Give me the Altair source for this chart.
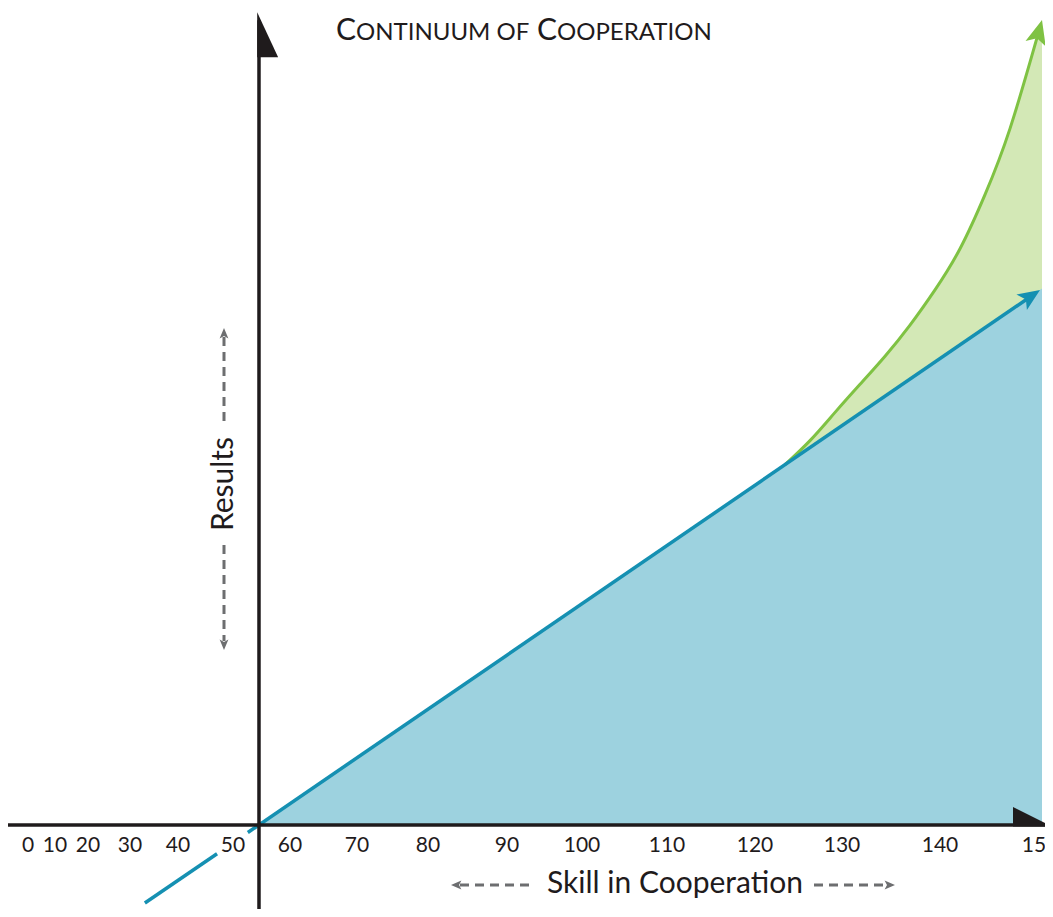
import altair as alt
import pandas as pd

# ---------------- data ----------------
TICK_VALUES = [0, 10, 20, 30, 40, 50, 60, 70, 80, 90, 100, 110, 120, 130, 140, 150]
TICK_LABELS = [str(v) for v in TICK_VALUES]

ORIGIN_X = 54.56          # where the Results axis crosses the Skill axis
RESULTS_TOP = 101.6       # top of the Results axis

# linear results (blue), drawn in two pieces (interrupted by the "50" label)
LINEAR_X_PART1 = [33.1, 47.1]
LINEAR_Y_PART1 = [-9.75, -3.6]
LINEAR_X_PART2 = [52.6, 149.0]
LINEAR_Y_PART2 = [-0.94, 66.0]
LINEAR_TIP_X = [150.0]
LINEAR_TIP_Y = [66.875]
LINEAR_FILL_X = [ORIGIN_X, 150.2]
LINEAR_FILL_Y = [0.0, 67.05]

# cooperative (accelerating) results (green)
EXP_X = [123.45, 126.32, 129.2, 131.84, 134.39, 136.94, 139.49, 142.0, 144.5, 147.0, 149.85]
EXP_Y = [45.04, 48.05, 51.58, 55.09, 58.6, 62.49, 66.89, 72.03, 78.79, 87.05, 99.06]
EXP_TIP_X = [150.2]
EXP_TIP_Y = [100.63]

# ---------------- layout / style ----------------
W, H = 1037, 901
AXIS_PX = [20, 47, 80, 122, 170, 225, 282, 349, 420, 499, 574, 659, 747, 834, 932, 1032]
XS = alt.Scale(domain=TICK_VALUES, range=AXIS_PX, nice=False, zero=False)
YS = alt.Scale(domain=[-10.5, 102.125], nice=False, zero=False)

BLUE_LINE = "#1590b2"
BLUE_FILL = "#9dd2df"
GREEN_LINE = "#7fc243"
GREEN_FILL = "#d3e8b6"
INK = "#1f1b1c"
GREY = "#6d6e70"
FONT = "Lato"

ARROW = "M0,0 L0.55,1.3 L0,1.0 L-0.55,1.3 Z"


def X(f="x"):
    return alt.X(f"{f}:Q", scale=XS, axis=None)


def Y(f="y"):
    return alt.Y(f"{f}:Q", scale=YS, axis=None)


exp_fill_df = pd.DataFrame({"x": EXP_X + EXP_TIP_X, "y": EXP_Y + EXP_TIP_Y, "y0": 0.0})
exp_line_df = pd.DataFrame({"x": EXP_X, "y": EXP_Y})
lin_fill_df = pd.DataFrame({"x": LINEAR_FILL_X, "y": LINEAR_FILL_Y, "y0": 0.0})
lin_line_df = pd.DataFrame({
    "x": LINEAR_X_PART1 + LINEAR_X_PART2,
    "y": LINEAR_Y_PART1 + LINEAR_Y_PART2,
    "seg": ["a", "a", "b", "b"],
})
tick_df = pd.DataFrame({"x": TICK_VALUES, "label": TICK_LABELS, "y": 0.0})

green_area = alt.Chart(exp_fill_df).mark_area(
    color=GREEN_FILL, opacity=1, interpolate="natural"
).encode(x=X(), y=Y(), y2="y0:Q")

blue_area = alt.Chart(lin_fill_df).mark_area(color=BLUE_FILL, opacity=1).encode(
    x=X(), y=Y(), y2="y0:Q"
)

green_line = alt.Chart(exp_line_df).mark_line(
    color=GREEN_LINE, strokeWidth=3, interpolate="natural"
).encode(x=X(), y=Y())

blue_line = alt.Chart(lin_line_df).mark_line(color=BLUE_LINE, strokeWidth=3.5).encode(
    x=X(), y=Y(), detail="seg:N"
)

green_tip = alt.Chart(pd.DataFrame({"x": EXP_TIP_X, "y": EXP_TIP_Y})).mark_point(
    shape=ARROW, filled=True, size=1444, color=GREEN_LINE, opacity=1, angle=15
).encode(x=X(), y=Y())

blue_tip = alt.Chart(pd.DataFrame({"x": LINEAR_TIP_X, "y": LINEAR_TIP_Y})).mark_point(
    shape=ARROW, filled=True, size=1156, color=BLUE_LINE, opacity=1, angle=56
).encode(x=X(), y=Y())

# axes
x_axis = alt.Chart(pd.DataFrame({"y": [0.0]})).mark_rule(color=INK, strokeWidth=3.5).encode(
    y=Y(), x=alt.value(0), x2=alt.value(W)
)
y_axis = alt.Chart(pd.DataFrame({"x": [ORIGIN_X], "y": [RESULTS_TOP - 1]})).mark_rule(
    color=INK, strokeWidth=3.5
).encode(x=X(), y=Y(), y2=alt.value(H))

y_head = alt.Chart(pd.DataFrame({"x": [ORIGIN_X], "y": [RESULTS_TOP]})).mark_point(
    shape="M-0.08,0 L0.85,2 L-0.08,2 Z", filled=True, size=2025, color=INK, opacity=1
).encode(x=X(), y=Y())
x_head = alt.Chart(pd.DataFrame({"x": [151.2], "y": [0.0]})).mark_point(
    shape="M0,0.08 L-1.95,0.08 L-1.95,-0.9 Z", filled=True, size=1600, color=INK, opacity=1
).encode(x=X(), y=Y())

ticks = alt.Chart(tick_df).mark_text(
    font=FONT, fontSize=21, color=INK, dy=21, baseline="middle", align="center"
).encode(x=X(), y=Y(), text="label:N")

# title (small caps imitation: large initials + smaller capitals)
TITLE_Y = 32
title_parts = [
    ("C", 348, 30, "right"),
    ("ONTINUUM OF", 348, 24, "left"),
    ("C", 549, 30, "right"),
    ("OOPERATION", 549, 24, "left"),
]
title_layers = [
    alt.Chart(pd.DataFrame({"t": [txt]})).mark_text(
        font=FONT, fontSize=fs, color=INK, align=al, baseline="alphabetic"
    ).encode(text="t:N", x=alt.value(px), y=alt.value(TITLE_Y))
    for txt, px, fs, al in title_parts
]

# axis captions with dashed arrows
skill = alt.Chart(pd.DataFrame({"t": ["Skill in Cooperation"]})).mark_text(
    font=FONT, fontSize=30, color=INK, align="center", baseline="middle"
).encode(text="t:N", x=alt.value(667), y=alt.value(876))
results = alt.Chart(pd.DataFrame({"t": ["Results"]})).mark_text(
    font=FONT, fontSize=30, color=INK, align="center", baseline="middle", angle=270
).encode(text="t:N", x=alt.value(216), y=alt.value(476))


def dash_h(x1, x2, y):
    return alt.Chart(pd.DataFrame({"a": [0]})).mark_rule(
        color=GREY, strokeWidth=3, strokeDash=[9, 6]
    ).encode(x=alt.value(x1), x2=alt.value(x2), y=alt.value(y))


def dash_v(y1, y2, x):
    return alt.Chart(pd.DataFrame({"a": [0]})).mark_rule(
        color=GREY, strokeWidth=3, strokeDash=[9, 6]
    ).encode(y=alt.value(y1), y2=alt.value(y2), x=alt.value(x))


def head(x, y, ang):
    return alt.Chart(pd.DataFrame({"a": [0]})).mark_point(
        shape=ARROW, filled=True, size=256, color=GREY, opacity=1, angle=ang
    ).encode(x=alt.value(x), y=alt.value(y))


annot = [
    dash_h(452, 526, 877), head(443, 877, 270),
    dash_h(806, 878, 877), head(887, 877, 90),
    dash_v(329, 414, 216), head(216, 320, 0),
    dash_v(537, 633, 216), head(216, 642, 180),
]

chart = alt.layer(
    green_area, blue_area, green_line, blue_line, green_tip, blue_tip,
    x_axis, y_axis, y_head, x_head, ticks, *title_layers, skill, results, *annot
).properties(
    width=W, height=H, padding=0, autosize=alt.AutoSizeParams(type="none")
).configure_view(stroke=None)

chart.save("out.html", embed_options={"renderer": "svg", "actions": False})
